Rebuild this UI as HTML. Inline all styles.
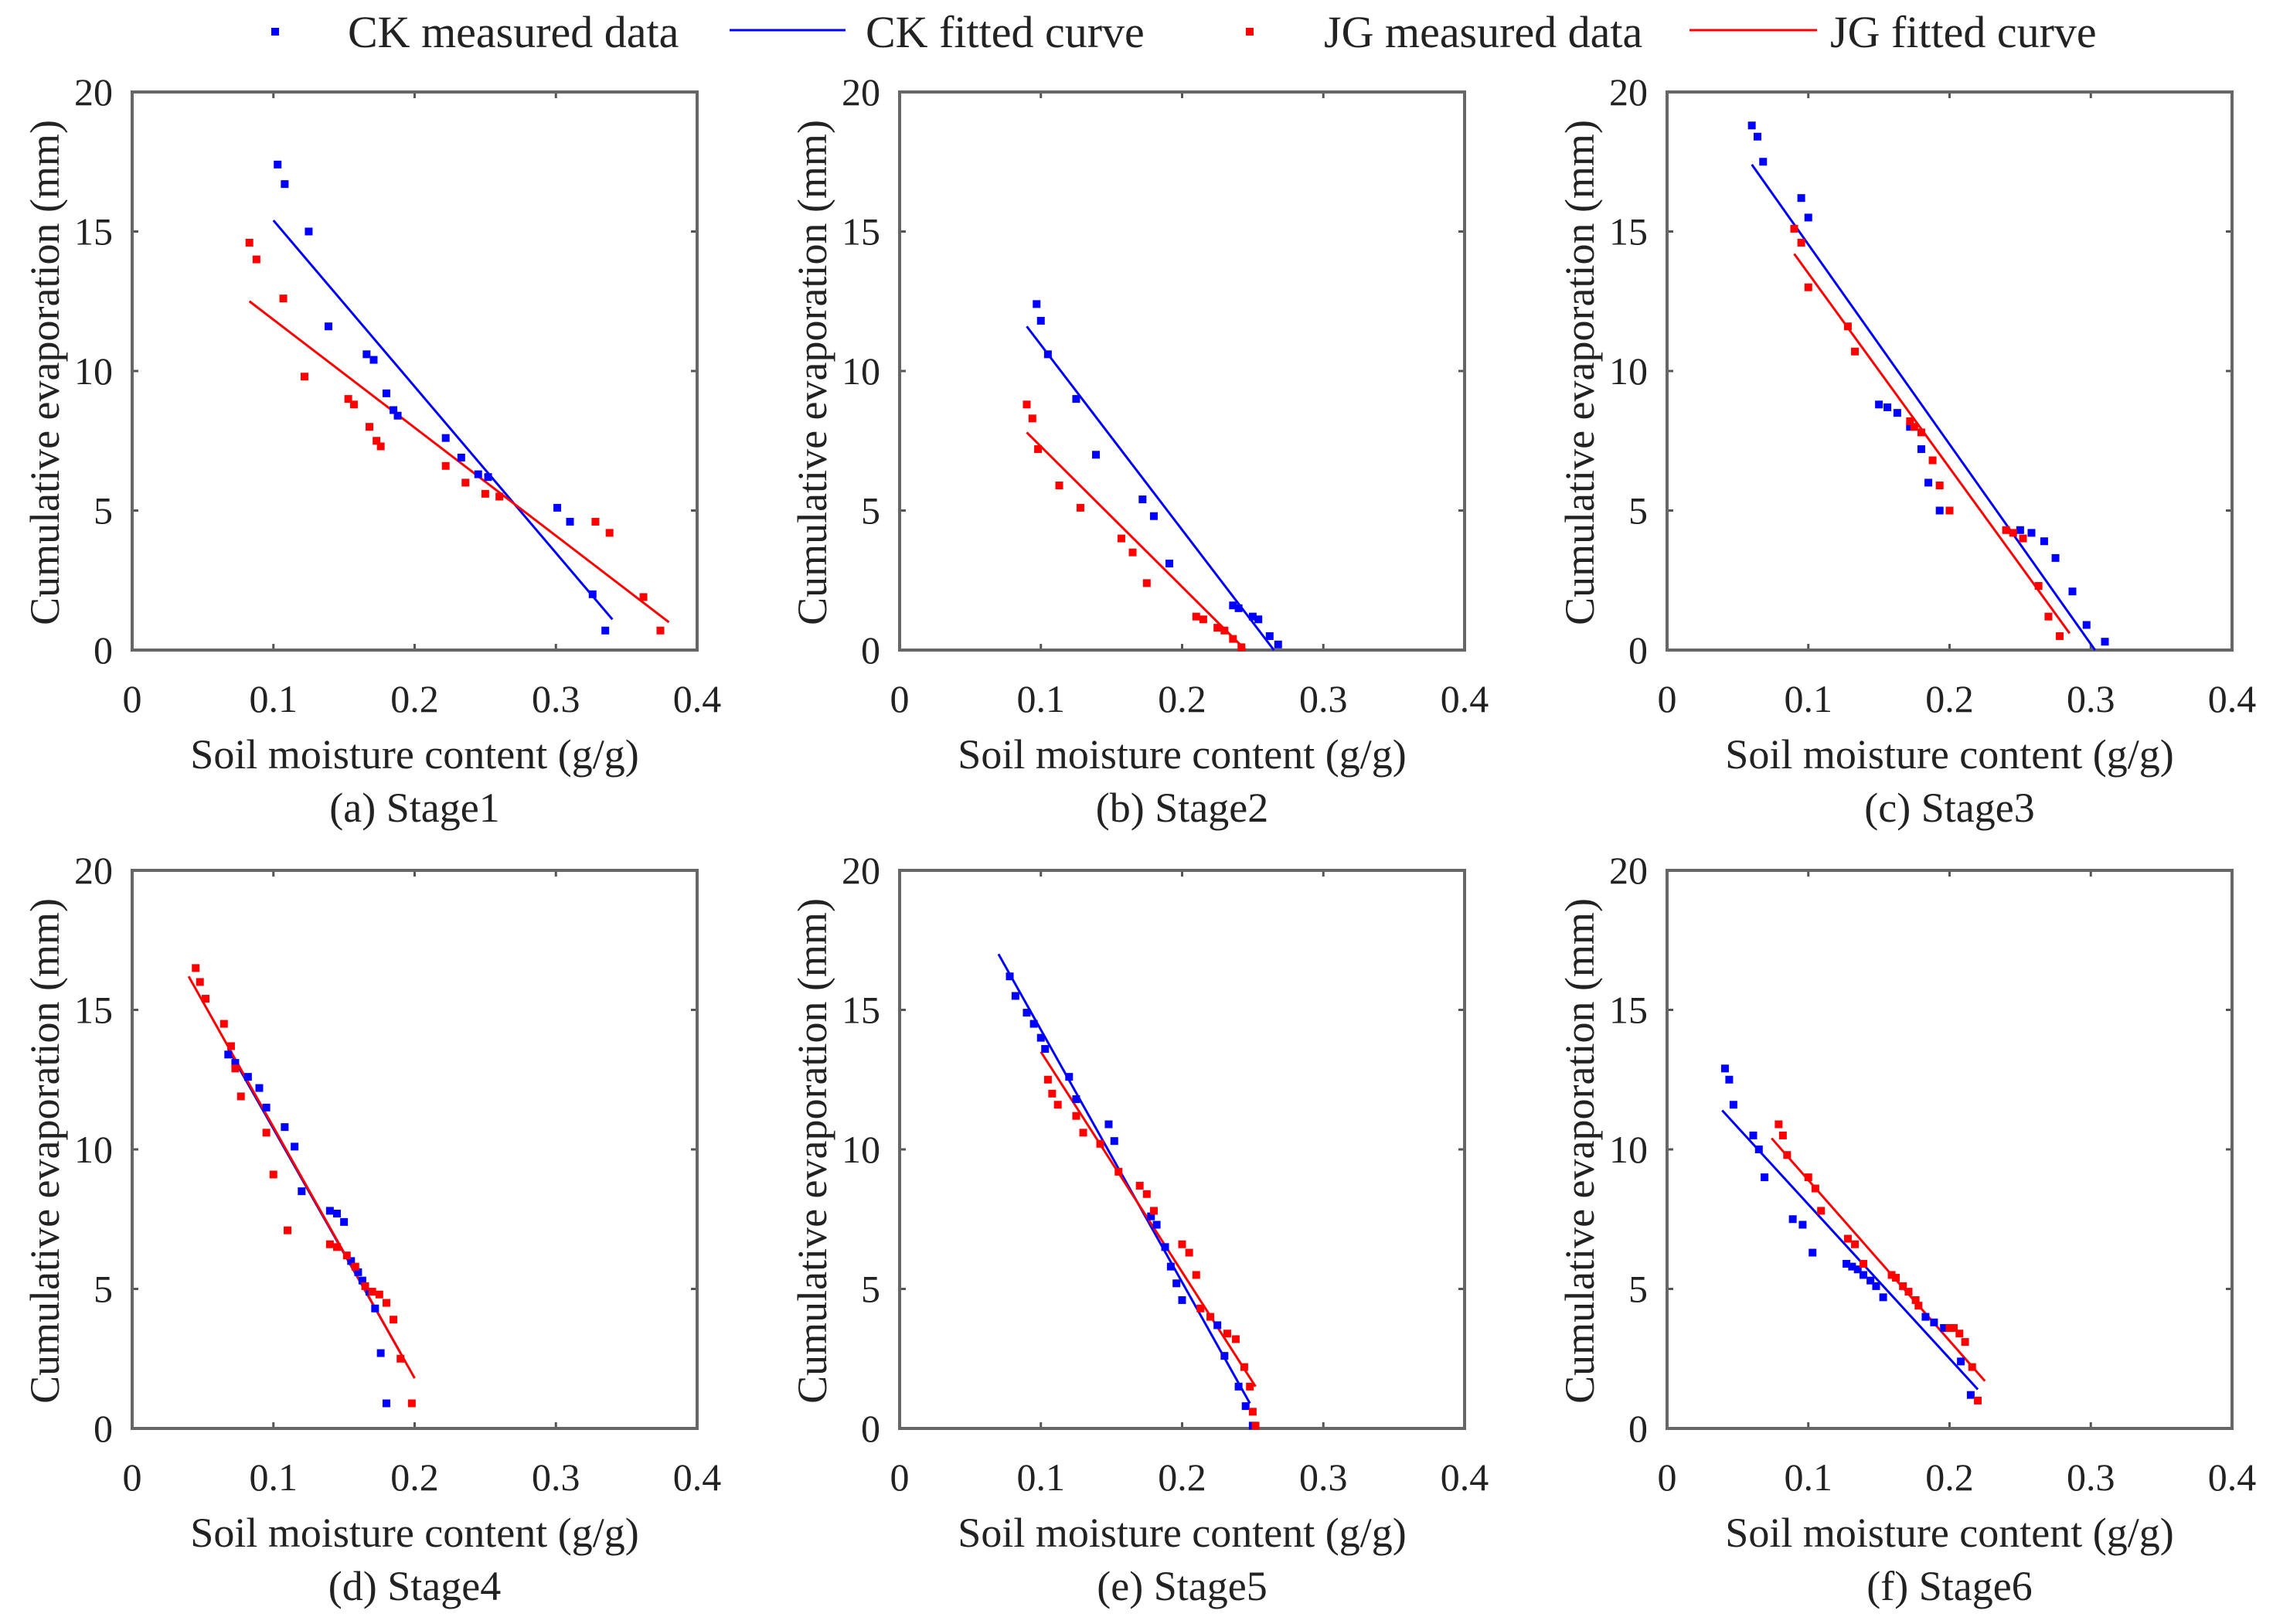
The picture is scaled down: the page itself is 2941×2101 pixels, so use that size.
<!DOCTYPE html>
<html><head><meta charset="utf-8"><style>
html,body{margin:0;padding:0;background:#fff;font-family:"Liberation Serif","Times New Roman",serif;}
svg{display:block;}
svg text{font-family:"Liberation Serif","Times New Roman",serif;}
</style></head><body>
<svg id="chart" width="2941" height="2101" viewBox="0 0 2941 2101" xmlns="http://www.w3.org/2000/svg" font-family="'Liberation Serif', serif">
<g id="legend" font-size="58" fill="#222" font-family="'Liberation Serif', serif">
  <rect x="351" y="36" width="10" height="10" fill="#0000ff"/>
  <text x="450" y="61" style="font-family:'Liberation Serif',serif">CK measured data</text>
  <line x1="944" y1="39" x2="1094" y2="39" stroke="#0000ff" stroke-width="3"/>
  <text x="1120" y="61" style="font-family:'Liberation Serif',serif">CK fitted curve</text>
  <rect x="1612" y="36" width="10" height="10" fill="#ff0000"/>
  <text x="1713" y="61" style="font-family:'Liberation Serif',serif">JG measured data</text>
  <line x1="2186" y1="39" x2="2351" y2="39" stroke="#ff0000" stroke-width="3"/>
  <text x="2368" y="61" style="font-family:'Liberation Serif',serif">JG fitted curve</text>
</g>
</svg>
<script>
const captions = ["(a) Stage1","(b) Stage2","(c) Stage3","(d) Stage4","(e) Stage5","(f) Stage6"];
const xTicks = [0,0.1,0.2,0.3,0.4];
const yTicks = [0,5,10,15,20];
const xTickLabels = ["0","0.1","0.2","0.3","0.4"];
const yTickLabels = ["0","5","10","15","20"];
const ckX = [
 [0.103,0.108,0.125,0.139,0.166,0.171,0.18,0.185,0.188,0.222,0.233,0.245,0.252,0.301,0.31,0.326,0.335],
 [0.097,0.1,0.105,0.125,0.139,0.172,0.18,0.191,0.236,0.24,0.25,0.254,0.262,0.268],
 [0.06,0.064,0.068,0.095,0.1,0.15,0.156,0.163,0.172,0.18,0.185,0.193,0.25,0.258,0.267,0.275,0.287,0.297,0.31],
 [0.068,0.073,0.082,0.09,0.095,0.108,0.115,0.12,0.14,0.145,0.15,0.155,0.16,0.163,0.168,0.172,0.176,0.18],
 [0.078,0.082,0.09,0.095,0.1,0.103,0.12,0.125,0.148,0.152,0.178,0.182,0.188,0.192,0.196,0.2,0.225,0.23,0.24,0.245,0.25],
 [0.041,0.044,0.047,0.061,0.065,0.069,0.089,0.096,0.103,0.127,0.131,0.135,0.139,0.144,0.148,0.153,0.183,0.189,0.196,0.208,0.215]
];
const ckY = [
 [17.4,16.7,15.0,11.6,10.6,10.4,9.2,8.6,8.4,7.6,6.9,6.3,6.2,5.1,4.6,2.0,0.7],
 [12.4,11.8,10.6,9.0,7.0,5.4,4.8,3.1,1.6,1.5,1.2,1.1,0.5,0.2],
 [18.8,18.4,17.5,16.2,15.5,8.8,8.7,8.5,8.0,7.2,6.0,5.0,4.3,4.2,3.9,3.3,2.1,0.9,0.3],
 [13.4,13.1,12.6,12.2,11.5,10.8,10.1,8.5,7.8,7.7,7.4,6.0,5.6,5.3,4.9,4.3,2.7,0.9],
 [16.2,15.5,14.9,14.5,14.0,13.6,12.6,11.8,10.9,10.3,7.6,7.3,6.5,5.8,5.2,4.6,3.7,2.6,1.5,0.8,0.1],
 [12.9,12.5,11.6,10.5,10.0,9.0,7.5,7.3,6.3,5.9,5.8,5.7,5.5,5.3,5.1,4.7,4.0,3.8,3.6,2.4,1.2]
];
const jgX = [
 [0.083,0.088,0.107,0.122,0.153,0.157,0.168,0.173,0.176,0.222,0.236,0.25,0.26,0.328,0.338,0.362,0.374],
 [0.09,0.094,0.098,0.113,0.128,0.157,0.165,0.175,0.21,0.215,0.225,0.23,0.236,0.242],
 [0.09,0.095,0.1,0.128,0.133,0.172,0.175,0.18,0.188,0.193,0.2,0.24,0.245,0.252,0.263,0.27,0.278],
 [0.045,0.048,0.052,0.065,0.07,0.073,0.077,0.095,0.1,0.11,0.14,0.145,0.152,0.158,0.165,0.17,0.175,0.18,0.185,0.19,0.198],
 [0.105,0.108,0.112,0.125,0.13,0.142,0.155,0.17,0.175,0.18,0.2,0.205,0.21,0.213,0.22,0.232,0.238,0.244,0.248,0.25,0.252],
 [0.079,0.082,0.085,0.1,0.105,0.109,0.128,0.133,0.139,0.159,0.162,0.167,0.171,0.176,0.178,0.2,0.203,0.207,0.211,0.216,0.22]
];
const jgY = [
 [14.6,14.0,12.6,9.8,9.0,8.8,8.0,7.5,7.3,6.6,6.0,5.6,5.5,4.6,4.2,1.9,0.7],
 [8.8,8.3,7.2,5.9,5.1,4.0,3.5,2.4,1.2,1.1,0.8,0.7,0.4,0.1],
 [15.1,14.6,13.0,11.6,10.7,8.2,8.0,7.8,6.8,5.9,5.0,4.3,4.2,4.0,2.3,1.2,0.5],
 [16.5,16.0,15.4,14.5,13.7,12.9,11.9,10.6,9.1,7.1,6.6,6.5,6.2,5.8,5.1,4.9,4.8,4.5,3.9,2.5,0.9],
 [12.5,12.0,11.6,11.2,10.6,10.2,9.2,8.7,8.4,7.8,6.6,6.3,5.5,4.3,4.0,3.4,3.2,2.2,1.5,0.6,0.1],
 [10.9,10.5,9.8,9.0,8.6,7.8,6.8,6.6,5.9,5.5,5.4,5.1,4.9,4.6,4.4,3.6,3.6,3.4,3.1,2.2,1.0]
];
const ckFitX = [[0.1,0.34],[0.09,0.265],[0.06,0.303],[0.068,0.19],[0.07,0.248],[0.039,0.22]];
const ckFitY = [[15.4,1.1],[11.6,0.0],[17.4,0.0],[13.6,2.7],[17.0,0.9],[11.4,1.4]];
const jgFitX = [[0.083,0.38],[0.09,0.245],[0.09,0.285],[0.04,0.2],[0.1,0.252],[0.074,0.225]];
const jgFitY = [[12.5,1.0],[7.8,0.0],[14.2,0.6],[16.2,1.8],[13.5,1.5],[10.4,1.7]];

const NS = "http://www.w3.org/2000/svg";
const svg = document.getElementById('chart');
const lefts = [171,1164,2157], tops = [119,1126];
const W = 731, H = 722, XMAX = 0.4, YMAX = 20;
const FONT = "'Liberation Serif', 'Times New Roman', serif";
function mk(tag, attrs, parent){ const e=document.createElementNS(NS,tag); for(const k in attrs) e.setAttribute(k,attrs[k]); if(tag==='text'){ e.setAttribute('font-family',FONT); e.style.fontFamily=FONT; } parent.appendChild(e); return e; }

for(let p=0;p<6;p++){
  const L = lefts[p%3], T = tops[Math.floor(p/3)];
  const sx = v => L + v/XMAX*W;
  const sy = v => T + H - v/YMAX*H;
  const g = mk('g',{},svg);
  
  
  xTicks.forEach((t,i)=>{
    const x = sx(t);
    if(i>0 && i<xTicks.length-1){
      mk('line',{x1:x,y1:T+H,x2:x,y2:T+H-8,stroke:'#555','stroke-width':3},g);
      mk('line',{x1:x,y1:T,x2:x,y2:T+8,stroke:'#555','stroke-width':3},g);
    }
    const tx = mk('text',{x:x,y:T+H+80,'font-size':50,'text-anchor':'middle',fill:'#222'},g);
    tx.textContent = xTickLabels[i];
    
    
  });
  yTicks.forEach((t,i)=>{
    const y = sy(t);
    if(i>0 && i<yTicks.length-1){
      mk('line',{x1:L,y1:y,x2:L+8,y2:y,stroke:'#555','stroke-width':3},g);
      mk('line',{x1:L+W,y1:y,x2:L+W-8,y2:y,stroke:'#555','stroke-width':3},g);
    }
    const ty = mk('text',{x:L-25,y:y+17,'font-size':50,'text-anchor':'end',fill:'#222'},g);
    ty.textContent = yTickLabels[i];
    
    
  });
  const box = mk('rect',{x:L,y:T,width:W,height:H,fill:'none',stroke:'#666','stroke-width':4},g);
  
  
  const yt = mk('text',{x:0,y:0,'font-size':54,'text-anchor':'middle',fill:'#222',transform:`translate(${L-95},${T+H/2+2}) rotate(-90)`},g);
  yt.textContent = 'Cumulative evaporation (mm)';
  
  
  const xt = mk('text',{x:L+W/2,y:T+H+153,'font-size':54,'text-anchor':'middle',fill:'#222'},g);
  xt.textContent = 'Soil moisture content (g/g)';
  
  
  const cp = mk('text',{x:L+W/2,y:T+H+222,'font-size':54,'text-anchor':'middle',fill:'#222'},g);
  cp.textContent = captions[p];
  
  
  const l1 = mk('line',{x1:sx(ckFitX[p][0]),y1:sy(ckFitY[p][0]),x2:sx(ckFitX[p][1]),y2:sy(ckFitY[p][1]),stroke:'#0000ff','stroke-width':3},g);
  
  
  const l2 = mk('line',{x1:sx(jgFitX[p][0]),y1:sy(jgFitY[p][0]),x2:sx(jgFitX[p][1]),y2:sy(jgFitY[p][1]),stroke:'#ff0000','stroke-width':3},g);
  
  
  ckX[p].forEach((v,i)=>{
    const r = mk('rect',{x:sx(v)-5,y:sy(ckY[p][i])-5,width:10,height:10,fill:'#0000ff'},g);
    
    
  });
  jgX[p].forEach((v,i)=>{
    const r = mk('rect',{x:sx(v)-5,y:sy(jgY[p][i])-5,width:10,height:10,fill:'#ff0000'},g);
    
    
  });
}
</script>
</body></html>
